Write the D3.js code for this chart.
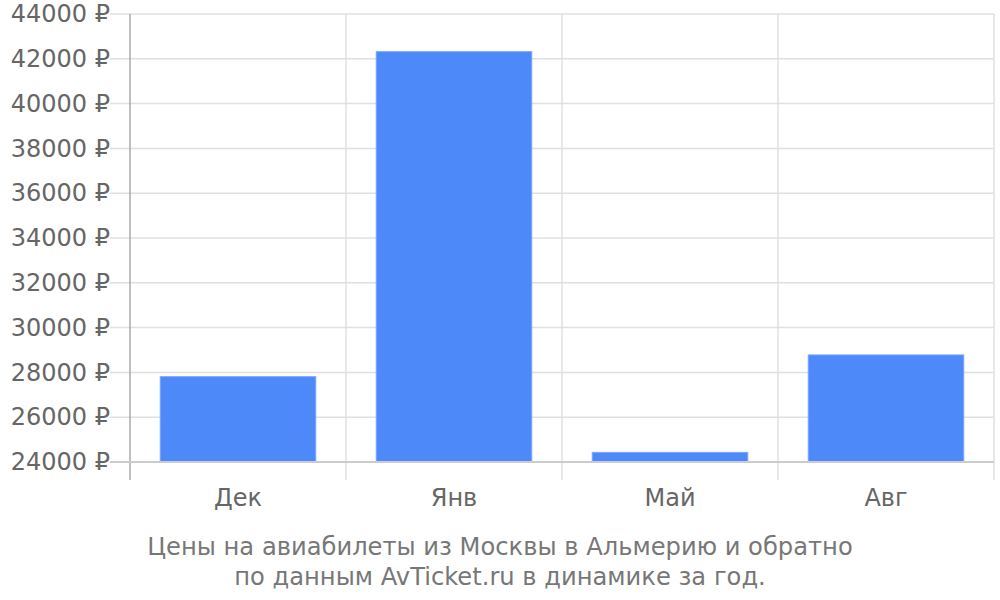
<!DOCTYPE html>
<html>
<head>
<meta charset="utf-8">
<script src="https://cdn.jsdelivr.net/npm/d3@7"></script>
<style>
  body { margin: 0; background: #fff; }
  text { font-family: "DejaVu Sans", sans-serif; }
</style>
</head>
<body>
<div class="chart"></div>
<script>
var width = 1000;
var height = 600;

// data
var months = ["Дек", "Янв", "Май", "Авг"];
var prices = [27810, 42320, 24430, 28780];
var yTicks = [24000, 26000, 28000, 30000, 32000, 34000, 36000, 38000, 40000, 42000, 44000];
var caption = ["Цены на авиабилеты из Москвы в Альмерию и обратно", "по данным AvTicket.ru в динамике за год."];

var plotLeft = 130, plotRight = 994, plotTop = 14, plotBottom = 462;

var svg = d3.select(".chart").append("svg").attr("width", width).attr("height", height);

var x = d3.scaleBand().domain(months).range([plotLeft, plotRight]).paddingInner(0.28).paddingOuter(0.14);
var y = d3.scaleLinear().domain([24000, 44000]).range([plotBottom, plotTop]);

// horizontal grid
svg.append("g").selectAll("line").data(yTicks).enter().append("line")
  .attr("x1", plotLeft - 20).attr("x2", plotRight)
  .attr("y1", function(d){ return y(d); }).attr("y2", function(d){ return y(d); })
  .style("stroke", "#e0e0e0").style("stroke-width", 1.5);

// vertical grid at band edges
var edges = months.map(function(m){ return x(m) - x.step() * x.paddingInner() / 2; });
edges.push(plotRight);
svg.append("g").selectAll("line").data(edges).enter().append("line")
  .attr("x1", function(d){ return d; }).attr("x2", function(d){ return d; })
  .attr("y1", plotTop).attr("y2", 480)
  .style("stroke", function(d, i){ return i === 0 ? "#aaa" : "#e0e0e0"; })
  .style("stroke-width", 1.5);

// bars
svg.append("g").selectAll("rect").data(prices).enter().append("rect")
  .attr("x", function(d, i){ return x(months[i]); })
  .attr("width", x.bandwidth())
  .attr("y", function(d){ return y(d); })
  .attr("height", function(d){ return y(24000) - y(d); })
  .style("fill", "#4d89f9").style("stroke", "#7aa6fa").style("stroke-width", 1);

// baseline
svg.append("line").attr("x1", plotLeft - 20).attr("x2", plotRight)
  .attr("y1", y(24000)).attr("y2", y(24000))
  .style("stroke", "#ccc").style("stroke-width", 2);

// y axis labels
var yAxis = d3.axisLeft(y).tickValues(yTicks).tickSize(0).tickPadding(20)
  .tickFormat(function(d){ return d + " ₽"; });
var ya = svg.append("g").attr("transform", "translate(" + plotLeft + ",0)").call(yAxis);
ya.select(".domain").remove();
ya.selectAll("text").style("font-size", "24px").style("fill", "#666")
  .style("font-family", "DejaVu Sans");

// x axis labels
var xAxis = d3.axisBottom(x).tickSize(0).tickPadding(27);
var xa = svg.append("g").attr("transform", "translate(0," + plotBottom + ")").call(xAxis);
xa.select(".domain").remove();
xa.selectAll("text").style("font-size", "24px").style("fill", "#666")
  .style("font-family", "DejaVu Sans");

// caption
svg.append("g").selectAll("text").data(caption).enter().append("text")
  .attr("x", 500).attr("y", function(d, i){ return 555 + i * 30; })
  .attr("text-anchor", "middle")
  .style("font-size", "24.2px").style("fill", "#777")
  .text(function(d){ return d; });
</script>
</body>
</html>
